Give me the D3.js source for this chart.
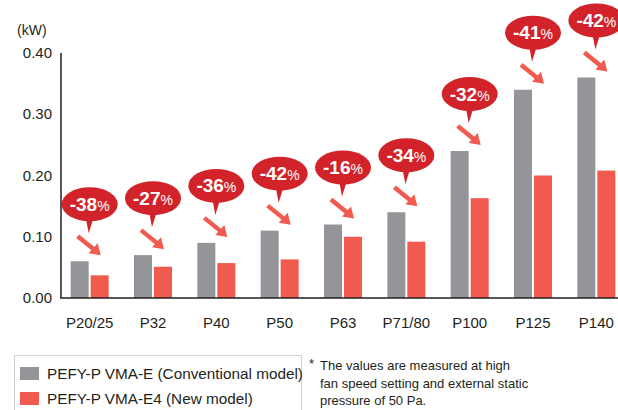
<!DOCTYPE html>
<html>
<head>
<meta charset="utf-8">
<script src="https://cdn.jsdelivr.net/npm/d3@7"></script>
<style>
  body { margin: 0; background: #fff; }
  svg { display: block; font-family: "Liberation Sans", Arial, sans-serif; }
</style>
</head>
<body>
<div id="chart"></div>
<script>
const categories = ["P20/25", "P32", "P40", "P50", "P63", "P71/80", "P100", "P125", "P140"];
const conventional = [0.06, 0.07, 0.09, 0.11, 0.12, 0.14, 0.24, 0.34, 0.36];
const newModel = [0.037, 0.051, 0.057, 0.063, 0.10, 0.092, 0.163, 0.20, 0.208];
const reductions = ["-38", "-27", "-36", "-42", "-16", "-34", "-32", "-41", "-42"];
const yTicks = [0, 0.1, 0.2, 0.3, 0.4];
const seriesNames = ["PEFY-P VMA-E (Conventional model)", "PEFY-P VMA-E4 (New model)"];
const noteLines = ["The values are measured at high", "fan speed setting and external static", "pressure of 50 Pa."];

const width = 618, height = 410;
const grey = "#939598", red = "#f15a4f", bubbleRed = "#d2232a", ink = "#231f20";

const svg = d3.select("#chart").append("svg")
    .attr("width", width)
    .attr("height", height);

const x0 = d3.scaleBand()
    .domain(categories)
    .range([58, 628])
    .paddingInner(0.4)
    .paddingOuter(0.2);

const x1 = d3.scaleBand()
    .domain([0, 1])
    .range([0, x0.bandwidth()])
    .paddingInner(0.1);

const y = d3.scaleLinear()
    .domain([0, 0.4])
    .range([298, 53]);

// y tick labels
svg.selectAll(".ytick")
    .data(yTicks)
    .enter().append("text")
    .attr("x", 52)
    .attr("y", d => y(d) + 5)
    .attr("text-anchor", "end")
    .attr("font-size", 15)
    .attr("fill", ink)
    .text(d => d.toFixed(2));

svg.append("text")
    .attr("x", 17)
    .attr("y", 35)
    .attr("font-size", 14)
    .attr("fill", ink)
    .text("(kW)");

// bars
const groups = svg.selectAll(".cat")
    .data(categories)
    .enter().append("g")
    .attr("transform", d => `translate(${x0(d)},0)`);

groups.append("rect")
    .attr("x", x1(0))
    .attr("width", x1.bandwidth())
    .attr("y", (d, i) => y(conventional[i]))
    .attr("height", (d, i) => y(0) - y(conventional[i]))
    .attr("fill", grey);

groups.append("rect")
    .attr("x", x1(1))
    .attr("width", x1.bandwidth())
    .attr("y", (d, i) => y(newModel[i]))
    .attr("height", (d, i) => y(0) - y(newModel[i]))
    .attr("fill", red);

// axes
svg.append("line")
    .attr("x1", 61).attr("x2", 61)
    .attr("y1", y(0.4)).attr("y2", y(0))
    .attr("stroke", ink).attr("stroke-width", 1.5);

svg.append("line")
    .attr("x1", 60).attr("x2", width)
    .attr("y1", y(0)).attr("y2", y(0))
    .attr("stroke", ink).attr("stroke-width", 1.5);

svg.selectAll(".xlabel")
    .data(categories)
    .enter().append("text")
    .attr("x", d => x0(d) + x0.bandwidth() / 2)
    .attr("y", 328)
    .attr("text-anchor", "middle")
    .attr("font-size", 15)
    .attr("fill", ink)
    .text(d => d);

// callouts: speech bubble + arrow
const callouts = groups.append("g")
    .attr("transform", (d, i) => `translate(${x0.bandwidth() / 2},${y(conventional[i])})`);

callouts.append("path")
    .attr("d", "M-4,-44 L4,-44 L-1,-28 Z")
    .attr("fill", bubbleRed);

callouts.append("ellipse")
    .attr("cx", 0)
    .attr("cy", -57)
    .attr("rx", 28)
    .attr("ry", 17)
    .attr("fill", bubbleRed);

const label = callouts.append("text")
    .attr("x", 0)
    .attr("y", -50.5)
    .attr("text-anchor", "middle")
    .attr("fill", "#fff");
label.append("tspan")
    .attr("font-size", 19)
    .attr("font-weight", "bold")
    .text((d, i) => reductions[i]);
label.append("tspan")
    .attr("font-size", 14)
    .text("%");

callouts.append("line")
    .attr("x1", -12).attr("y1", -25)
    .attr("x2", 4).attr("y2", -12)
    .attr("stroke", red)
    .attr("stroke-width", 4.5);

callouts.append("path")
    .attr("d", "M11,-6 L-1,-8 L8,-18 Z")
    .attr("fill", red);

// legend
svg.append("rect")
    .attr("x", 14.5).attr("y", 355.5)
    .attr("width", 287).attr("height", 70)
    .attr("fill", "none")
    .attr("stroke", "#d0d0d0");

const legend = svg.selectAll(".legend")
    .data(seriesNames)
    .enter().append("g")
    .attr("transform", (d, i) => `translate(20,${367 + i * 25})`);

legend.append("rect")
    .attr("width", 19).attr("height", 13)
    .attr("fill", (d, i) => i === 0 ? grey : red);

legend.append("text")
    .attr("x", 27)
    .attr("y", 12)
    .attr("font-size", 15.3)
    .attr("fill", ink)
    .text(d => d);

// footnote
svg.append("text")
    .attr("x", 309).attr("y", 368)
    .attr("font-size", 13)
    .attr("fill", ink)
    .text("*");

svg.selectAll(".note")
    .data(noteLines)
    .enter().append("text")
    .attr("x", 320)
    .attr("y", (d, i) => 370 + i * 17.5)
    .attr("font-size", 13)
    .attr("fill", ink)
    .text(d => d);
</script>
</body>
</html>
